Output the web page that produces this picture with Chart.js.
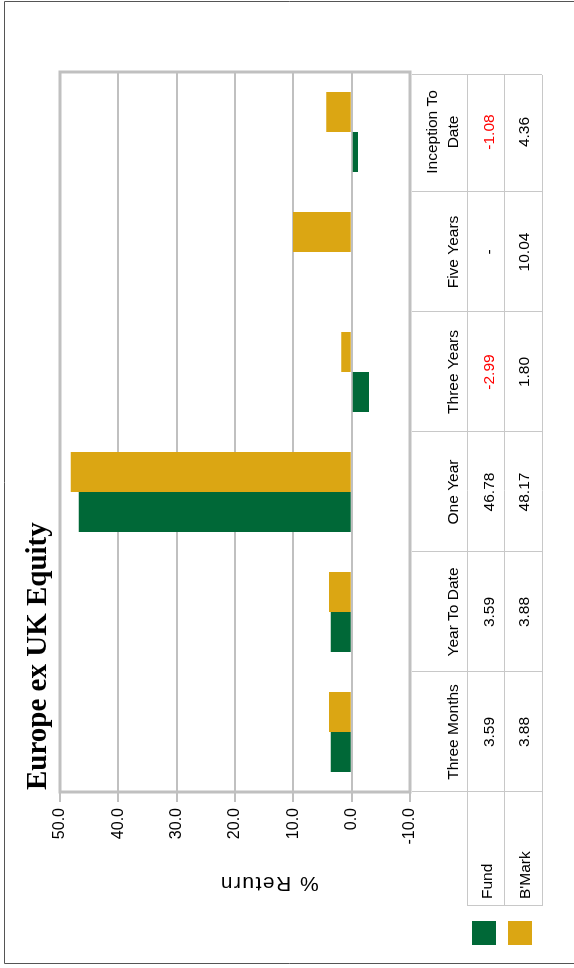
<!DOCTYPE html>
<html>
<head>
<meta charset="utf-8">
<script src="https://cdn.jsdelivr.net/npm/chart.js@4.4.1/dist/chart.umd.min.js"></script>
<style>
  html, body { margin: 0; padding: 0; background: #fff; overflow: hidden; }
  /* chart is laid out landscape, then turned onto its side */
  #page { position: absolute; left: 0; top: 0; width: 968px; height: 574px;
          transform-origin: 0 0; transform: translateY(968px) rotate(-90deg); }
</style>
</head>
<body>
<div id="page"><canvas id="perf" width="968" height="574"></canvas></div>
<script>
const categories = [["Three Months"], ["Year To Date"], ["One Year"], ["Three Years"], ["Five Years"], ["Inception To", "Date"]];
const fundReturns = [3.59, 3.59, 46.78, -2.99, null, -1.08];
const benchReturns = [3.88, 3.88, 48.17, 1.80, 10.04, 4.36];
const seriesNames = ["Fund", "B'Mark"];
const axisMin = -10;
const axisMax = 50;
const axisStep = 10;
const chartTitle = "Europe ex UK Equity";
const axisTitle = "% Return";

const GREEN = "#006837";
const GOLD = "#dba613";
const GRID = "#c0c0c0";
const SANS = '"Liberation Sans", Arial, sans-serif';

function fmt(v) {
  return v == null ? "-" : v.toFixed(2);
}

/* ---------- frame, data table, titles ---------- */
const extras = {
  id: "extras",
  afterDraw(chart) {
    const { ctx, chartArea: a, scales: { x } } = chart;
    const colW = (a.right - a.left) / categories.length;
    const headTop = a.bottom + 2, headBot = 467, row1Bot = 504, row2Bot = 542;
    const labelLeft = 62, tableRight = a.right - 3;

    ctx.save();

    // plot frame
    ctx.strokeStyle = GRID;
    ctx.lineWidth = 3;
    ctx.strokeRect(a.left, a.top, a.right - a.left, a.bottom - a.top);

    // table lines
    ctx.strokeStyle = "#c8c8c8";
    ctx.lineWidth = 1;
    ctx.beginPath();
    [headBot, row1Bot, row2Bot].forEach(yy => {
      ctx.moveTo(labelLeft, yy + 0.5);
      ctx.lineTo(tableRight, yy + 0.5);
    });
    ctx.moveTo(labelLeft + 0.5, headBot);
    ctx.lineTo(labelLeft + 0.5, row2Bot);
    for (let k = 0; k <= categories.length; k++) {
      const xx = Math.min(a.left + k * colW, tableRight) + 0.5;
      ctx.moveTo(xx, headTop);
      ctx.lineTo(xx, row2Bot);
    }
    ctx.stroke();

    // table text
    ctx.fillStyle = "#000";
    ctx.textAlign = "center";
    ctx.textBaseline = "alphabetic";
    ctx.font = `15.5px ${SANS}`;
    categories.forEach((lines, i) => {
      const cx = x.getPixelForValue(i);
      lines.forEach((t, j) => {
        ctx.fillText(t, cx, 458 - (lines.length - 1 - j) * 21);
      });
      [[fundReturns[i], 494], [benchReturns[i], 529]].forEach(([v, yy]) => {
        ctx.fillStyle = v != null && v < 0 ? "#ff0000" : "#000";
        ctx.fillText(fmt(v), cx, yy);
      });
      ctx.fillStyle = "#000";
    });
    ctx.textAlign = "left";
    ctx.fillText(seriesNames[0], 69, 492);
    ctx.fillText(seriesNames[1], 69, 530);

    // legend keys
    chart.data.datasets.forEach((ds, i) => {
      ctx.fillStyle = ds.backgroundColor;
      ctx.fillRect(23, 472 + i * 36, 24, 24);
    });

    // titles
    ctx.fillStyle = "#000";
    ctx.font = `bold 29px "Liberation Serif", "Times New Roman", serif`;
    ctx.textAlign = "left";
    ctx.fillText(chartTitle, 178, 46);

    ctx.save();
    ctx.translate(85, 269);
    ctx.rotate(-Math.PI / 2);
    ctx.font = `21px ${SANS}`;
    ctx.letterSpacing = "1.5px";
    ctx.textAlign = "center";
    ctx.textBaseline = "middle";
    ctx.fillText(axisTitle, 0, 0);
    ctx.restore();

    // outer border
    ctx.strokeStyle = "#555";
    ctx.lineWidth = 1;
    ctx.beginPath();
    ctx.moveTo(4.5, 574);
    ctx.lineTo(4.5, 4.5);
    ctx.lineTo(966.5, 4.5);
    ctx.lineTo(966.5, 574);
    ctx.stroke();

    ctx.restore();
  }
};

new Chart(document.getElementById("perf"), {
  type: "bar",
  data: {
    labels: categories,
    datasets: [
      { label: seriesNames[0], data: fundReturns, backgroundColor: GREEN },
      { label: seriesNames[1], data: benchReturns, backgroundColor: GOLD }
    ]
  },
  options: {
    responsive: false,
    animation: false,
    layout: { padding: { left: 0, top: 60, right: 72, bottom: 164 } },
    datasets: { bar: { categoryPercentage: 80 / 120, barPercentage: 1, borderWidth: 0 } },
    plugins: { legend: { display: false }, tooltip: { enabled: false }, title: { display: false } },
    scales: {
      x: { display: false },
      y: {
        min: axisMin,
        max: axisMax,
        ticks: {
          stepSize: axisStep,
          callback: v => v.toFixed(1),
          color: "#000",
          font: { family: SANS, size: 16 },
          padding: 6
        },
        grid: { color: GRID, lineWidth: 2, tickLength: 10 },
        border: { display: false },
        afterFit(s) { s.width = 176; }
      }
    }
  },
  plugins: [extras]
});
</script>
</body>
</html>
